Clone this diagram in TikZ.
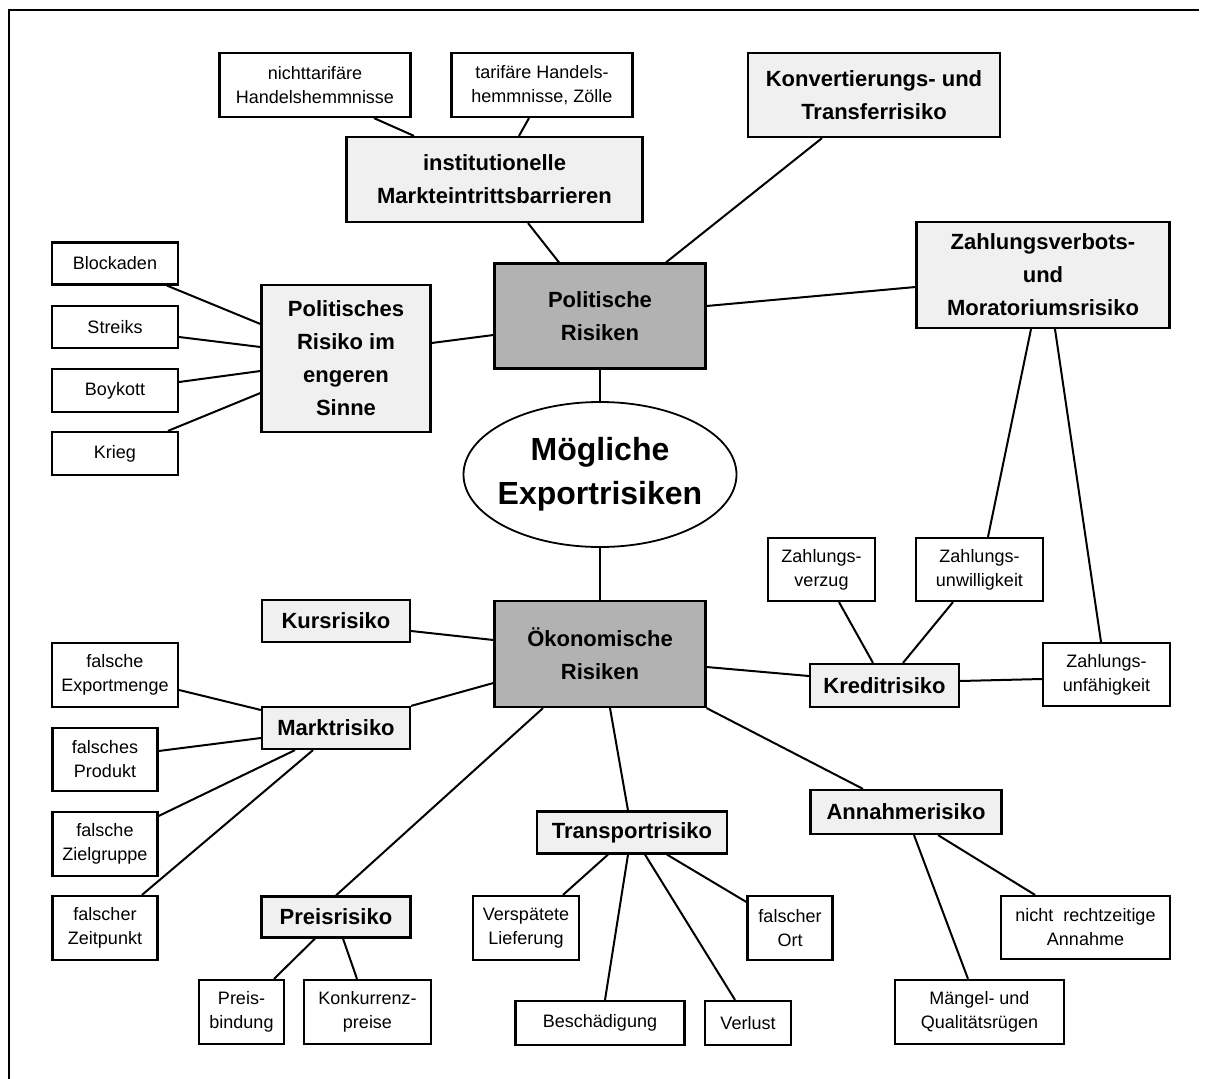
\documentclass[tikz,border=0pt]{standalone}
\usepackage{fontspec}
\setmainfont{Liberation Sans}
\usetikzlibrary{shapes.geometric}
\definecolor{boxgray}{RGB}{240,240,240}
\definecolor{hubgray}{RGB}{178,178,178}
\newcommand\leaffont{\fontsize{18}{24}\selectfont}
\newcommand\midfont{\fontsize{22}{33}\selectfont\bfseries}
\newcommand\hubfont{\fontsize{32}{44}\selectfont\bfseries}

\begin{document}
\begin{tikzpicture}[x=1pt,y=-1pt,
  leaf/.style={draw,line width=2.2pt,fill=white,align=center,inner sep=0pt,font=\leaffont},
  mid/.style={leaf,fill=boxgray,font=\midfont},
  hub/.style={mid,fill=hubgray},
  dims/.style 2 args={minimum width=#1pt,minimum height=#2pt},
  link/.style={line width=2pt}]
  \useasboundingbox (0,0) rectangle (1208,1079);
  \draw[line width=2.5pt] (9,1079) -- (9,10) -- (1199,10);

  % centre
  \node[draw,ellipse,line width=1.8pt,inner xsep=-10pt,inner ysep=0pt,dims={273}{145},align=center,font=\hubfont] (ell) at (600,474.5) {Mögliche\\Exportrisiken};
  \node[hub,dims={211}{105}] (pol) at (600,316) {Politische\\Risiken};
  \node[hub,dims={211}{106}] (oek) at (600,654) {Ökonomische\\Risiken};

  % political side
  \node[mid,dims={296}{85}] (inst) at (494.5,179.5) {institutionelle\\Markteintrittsbarrieren};
  \node[leaf,dims={191}{64}] (nht) at (315,85) {nichttarifäre\\Handelshemmnisse};
  \node[leaf,dims={181}{64}] (tar) at (542,85) {tarifäre Handels-\\hemmnisse, Zölle};
  \node[mid,dims={252}{84}] (konv) at (874,95) {Konvertierungs- und\\Transferrisiko};
  \node[mid,dims={253}{106}] (zahlv) at (1043,275) {Zahlungsverbots-\\und\\Moratoriumsrisiko};
  \node[mid,dims={169}{147}] (polr) at (346,358.5) {Politisches\\Risiko im\\engeren\\Sinne};
  \node[leaf,dims={126}{42}] (blk) at (115,263.5) {Blockaden};
  \node[leaf,dims={126}{42}] (str) at (115,327) {Streiks};
  \node[leaf,dims={126}{43}] (boy) at (115,390.5) {Boykott};
  \node[leaf,dims={126}{43}] (krg) at (115,453.5) {Krieg};

  % economic side
  \node[mid,dims={148}{42}] (kurs) at (336,621) {Kursrisiko};
  \node[mid,dims={148}{42}] (mark) at (336,728) {Marktrisiko};
  \node[leaf,dims={126}{64}] (fem) at (115,675) {falsche\\Exportmenge};
  \node[leaf,dims={105}{63}] (fp) at (105,759.5) {falsches\\Produkt};
  \node[leaf,dims={105}{64}] (fz) at (105,844) {falsche\\Zielgruppe};
  \node[leaf,dims={105}{64}] (fzp) at (105,928) {falscher\\Zeitpunkt};
  \node[mid,dims={149}{41}] (preis) at (336,917) {Preisrisiko};
  \node[leaf,dims={85}{64}] (pb) at (241.5,1012) {Preis-\\bindung};
  \node[leaf,dims={127}{64}] (kp) at (367.5,1012) {Konkurrenz-\\preise};
  \node[mid,dims={190}{42}] (trans) at (632,832.5) {Transportrisiko};
  \node[leaf,dims={106}{64}] (vl) at (526,928) {Verspätete\\Lieferung};
  \node[leaf,dims={169}{44}] (besch) at (600,1023) {Beschädigung};
  \node[leaf,dims={86}{44}] (verl) at (748,1023) {Verlust};
  \node[leaf,dims={85}{64}] (fo) at (790,928) {falscher\\Ort};
  \node[mid,dims={191}{44}] (ann) at (906,812) {Annahmerisiko};
  \node[leaf,dims={169}{63}] (nra) at (1085.5,927.5) {nicht~~rechtzeitige\\Annahme};
  \node[leaf,dims={169}{64}] (mq) at (979.5,1012) {Mängel- und\\Qualitätsrügen};
  \node[mid,dims={149}{43}] (kred) at (884.5,685.5) {Kreditrisiko};
  \node[leaf,dims={107}{63}] (zv) at (821.5,569.5) {Zahlungs-\\verzug};
  \node[leaf,dims={127}{63}] (zuw) at (979.5,569.5) {Zahlungs-\\unwilligkeit};
  \node[leaf,dims={127}{63}] (zuf) at (1106.5,674.5) {Zahlungs-\\unfähigkeit};

  % connectors, political
  \draw[link] (pol) -- (ell);
  \draw[link] ([xshift=59pt]nht.south) -- ([xshift=-80.5pt]inst.north);
  \draw[link] ([xshift=-13pt]tar.south) -- ([xshift=24.5pt]inst.north);
  \draw[link] ([xshift=33.5pt]inst.south) -- ([xshift=-41pt]pol.north);
  \draw[link] ([xshift=-52pt]konv.south) -- ([xshift=66pt]pol.north);
  \draw[link] ([yshift=-12pt]zahlv.west) -- ([yshift=10pt]pol.east);
  \draw[link] ([yshift=15.5pt]polr.east) -- ([yshift=-19pt]pol.west);
  \draw[link] ([xshift=52pt]blk.south) -- ([yshift=34.5pt]polr.west);
  \draw[link] ([yshift=-10pt]str.east) -- ([yshift=11.5pt]polr.west);
  \draw[link] ([yshift=8.5pt]boy.east) -- ([yshift=-12.5pt]polr.west);
  \draw[link] ([xshift=53pt]krg.north) -- ([yshift=-34.5pt]polr.west);

  % connectors, economic
  \draw[link] (ell) -- (oek);
  \draw[link] ([yshift=-10pt]kurs.east) -- ([yshift=14pt]oek.west);
  \draw[link] ([yshift=-29pt]oek.west) -- (mark.north east);
  \draw[link] ([yshift=-15pt]fem.east) -- ([yshift=18pt]mark.west);
  \draw[link] ([yshift=8.5pt]fp.east) -- ([yshift=-10pt]mark.west);
  \draw[link] ([yshift=28pt]fz.east) -- ([xshift=-41pt]mark.south);
  \draw[link] ([xshift=37pt]fzp.north) -- ([xshift=-23pt]mark.south);
  \draw[link] ([xshift=-57pt]oek.south) -- (preis.north);
  \draw[link] ([xshift=-21pt]preis.south) -- ([xshift=32.5pt]pb.north);
  \draw[link] ([xshift=7pt]preis.south) -- ([xshift=-10.5pt]kp.north);
  \draw[link] ([xshift=10pt]oek.south) -- ([xshift=-4pt]trans.north);
  \draw[link] ([xshift=-24pt]trans.south) -- ([xshift=37pt]vl.north);
  \draw[link] ([xshift=-4pt]trans.south) -- ([xshift=5pt]besch.north);
  \draw[link] ([xshift=13pt]trans.south) -- ([xshift=-13pt]verl.north);
  \draw[link] ([xshift=35pt]trans.south) -- ([yshift=26pt]fo.west);
  \draw[link] (oek.south east) -- ([xshift=-43pt]ann.north);
  \draw[link] ([xshift=8pt]ann.south) -- ([xshift=-11.5pt]mq.north);
  \draw[link] ([xshift=32pt]ann.south) -- ([xshift=-50.5pt]nra.north);
  \draw[link] ([yshift=-13pt]oek.east) -- ([yshift=9.5pt]kred.west);
  \draw[link] ([yshift=4.5pt]kred.east) -- ([yshift=-4.5pt]zuf.west);
  \draw[link] ([xshift=-11.5pt]kred.north) -- ([xshift=17.5pt]zv.south);
  \draw[link] ([xshift=18.5pt]kred.north) -- ([xshift=-26.5pt]zuw.south);
  \draw[link] ([xshift=-12pt]zahlv.south) -- ([xshift=8.5pt]zuw.north);
  \draw[link] ([xshift=12pt]zahlv.south) -- ([xshift=-5.5pt]zuf.north);
\end{tikzpicture}
\end{document}
